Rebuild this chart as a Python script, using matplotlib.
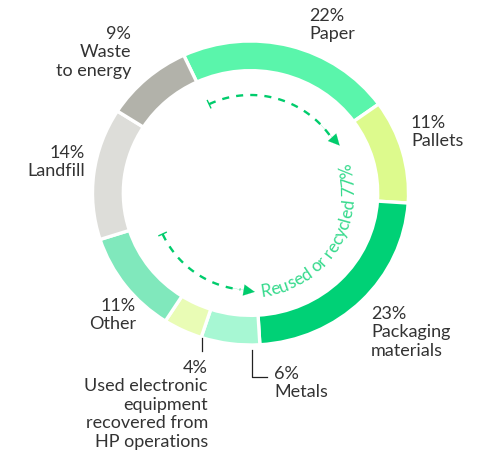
import numpy as np
import matplotlib
matplotlib.use('Agg')
import matplotlib.pyplot as plt
from matplotlib.font_manager import FontProperties
from matplotlib.textpath import TextToPath

# data, clockwise from the top-left gap
categories = ['Paper', 'Pallets', 'Packaging\nmaterials', 'Metals',
              'Used electronic\nequipment\nrecovered from\nHP operations',
              'Other', 'Landfill', 'Waste\nto energy']
shares = [22, 11, 23, 6, 4, 11, 14, 9]
colors = ['#5af5ab', '#ddfa8d', '#00d176', '#a7f7d3', '#e9fcb5',
          '#80e8bc', '#ddddd9', '#b2b2aa']
recycled_label = 'Reused or recycled 77%'

W, H = 483, 459
cx, cy = 250.5, 193  # pixel centre of the ring
RX, RY = 158, 152    # ring is a touch wider than tall

plt.rcParams['font.family'] = ['Lato', 'DejaVu Sans']
fig = plt.figure(figsize=(W / 100, H / 100), dpi=100)
ax = fig.add_axes([(cx - RX) / W, (H - cy - RY) / H, 2 * RX / W, 2 * RY / H])

ax.pie(shares, colors=colors, startangle=115, counterclock=False,
       radius=1.0,
       wedgeprops=dict(width=0.195, edgecolor='white', linewidth=2.4))
ax.set_xlim(-1, 1)
ax.set_ylim(-1, 1)
ax.set_aspect('auto')
ax.axis('off')

txt_col = '#333333'
fs = 13


def px(x, y):
    return x / W, 1 - y / H


label_pos = [  # (x, top y, align)
    (309, 8, 'left'),
    (411, 115, 'left'),
    (371, 306, 'left'),
    (274, 366, 'left'),
    (208, 360, 'right'),
    (136, 298, 'right'),
    (85, 145, 'right'),
    (131, 26, 'right'),
]
for cat, val, (x, y, al) in zip(categories, shares, label_pos):
    fig.text(*px(x, y), f'{val}%\n{cat}', ha=al, va='top', fontsize=fs,
             color=txt_col, linespacing=1.19, multialignment=al)

# leader lines (pixel coords -> data)
def d(x, y):
    return (x - cx) / RX, (cy - y) / RY


lx, ly = zip(d(252, 350), d(252, 377), d(267, 377))
ax.plot(lx, ly, color='#222222', lw=0.9, clip_on=False)
lx, ly = zip(d(202, 338), d(202, 351))
ax.plot(lx, ly, color='#222222', lw=0.9, clip_on=False)

# dashed arrows inside the ring
green = '#00cc6c'


def arc_pt(theta, r):
    a = np.radians(theta)
    return d(cx + r * np.cos(a), cy - r * np.sin(a))


def dashed_arc(t0, t1, r, tip_theta, tip_r):
    t = np.linspace(t0, t1, 80)
    pts = np.array([arc_pt(v, r) for v in t[:-5]])
    ax.plot(pts[:, 0], pts[:, 1], color=green, lw=1.7, dashes=(3.0, 3.0))
    # small start tick
    p1, p2 = arc_pt(t0, r - 4), arc_pt(t0, r + 4)
    ax.plot([p1[0], p2[0]], [p1[1], p2[1]], color=green, lw=1.0)
    ax.annotate('', xy=arc_pt(tip_theta, tip_r), xytext=arc_pt(t[-14], r),
                arrowprops=dict(arrowstyle='-|>,head_length=0.8,head_width=0.4',
                                color=green, lw=0.1, shrinkA=0, shrinkB=0))


dashed_arc(115, 31, 98, 28, 101)
dashed_arc(-155, -92, 97, -87.5, 99)

# curved text along the ring
fp = FontProperties(family='Lato', size=12.5)
t2p = TextToPath()


def width_px(s):
    w, _, _ = t2p.get_text_width_height_descent(s, fp, ismath=False)
    return w * 100 / 72


r_base = 104  # px
theta0 = -84.0
for i, ch in enumerate(recycled_label):
    mid = (width_px(recycled_label[:i]) + width_px(recycled_label[:i + 1])) / 2 \
        if i else width_px(ch) / 2
    th = theta0 + np.degrees(mid / r_base)
    ax.text(*arc_pt(th, r_base), ch, fontproperties=fp, color='#35da8c',
            rotation=th + 90, rotation_mode='anchor', ha='center', va='baseline')

fig.savefig('out.png', dpi=100)
